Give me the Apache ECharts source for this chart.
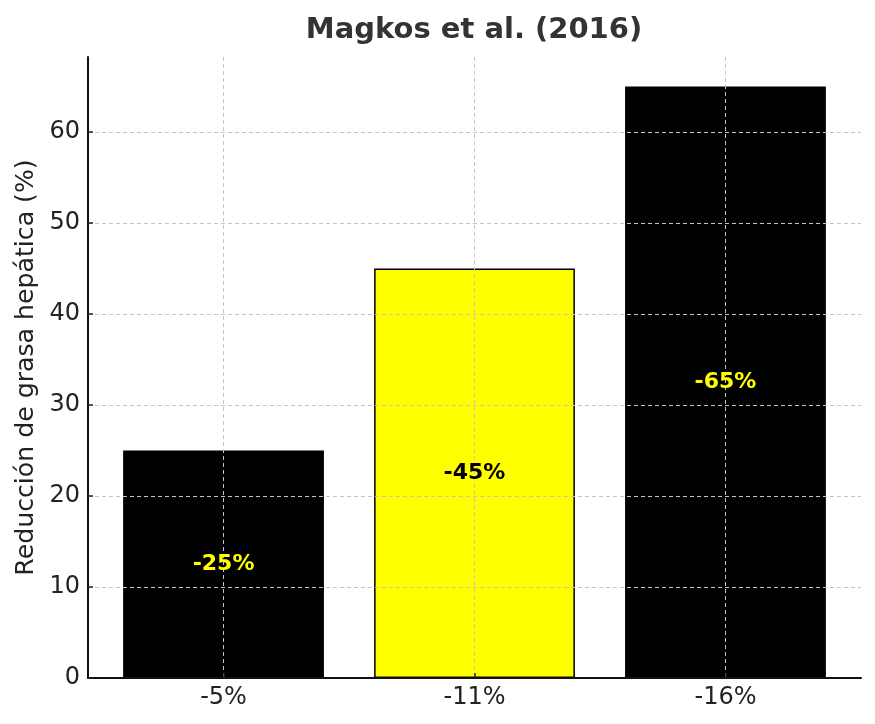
<!DOCTYPE html>
<html><head><meta charset="utf-8">
<script src="https://cdn.jsdelivr.net/npm/echarts@6/dist/echarts.min.js"></script>
<style>html,body{margin:0;padding:0;background:#fff}#c{width:875px;height:724px}</style>
</head><body><div id="c"></div>
<script>
const titleText = 'Magkos et al. (2016)';
const yAxisName = 'Reducción de grasa hepática (%)';
const categories = ['-5%', '-11%', '-16%'];
const values = [25, 45, 65];
const barColors = ['#000000', '#ffff00', '#000000'];
const labelColors = ['#ffff00', '#000000', '#ffff00'];

const font = 'DejaVu Sans';
const chart = echarts.init(document.getElementById('c'), null, {renderer: 'canvas'});
chart.setOption({
  animation: false,
  backgroundColor: '#fff',
  title: {
    text: titleText, left: 469, textAlign: 'center', top: 11,
    textStyle: {fontFamily: font, fontWeight: 'bold', fontSize: 29, color: '#333333'}
  },
  grid: {left: 88, right: 14, top: 57, bottom: 46, containLabel: false},
  xAxis: {
    type: 'value', min: -0.54, max: 2.54, interval: 1, z: 3,
    axisLine: {show: true, onZero: false, lineStyle: {color: '#111', width: 2}},
    axisTick: {show: true, inside: true, length: 5, customValues: [0, 1, 2], lineStyle: {color: '#222', width: 1.5}},
    axisLabel: {
      customValues: [0, 1, 2], margin: 8,
      fontFamily: font, fontSize: 24, color: '#222',
      formatter: v => { const i = Math.round(v); return Math.abs(v - i) < 1e-6 && categories[i] !== undefined ? categories[i] : ''; }
    },
    splitLine: {show: true, lineStyle: {color: '#c4c4c4', type: [4, 3], width: 1}}
  },
  yAxis: {
    type: 'value', min: 0, max: 68.25, interval: 10, z: 3,
    name: yAxisName, nameLocation: 'middle', nameRotate: 90, nameGap: 39,
    nameTextStyle: {fontFamily: font, fontSize: 25.2, color: '#222'},
    axisLine: {show: true, onZero: false, lineStyle: {color: '#111', width: 2}},
    axisTick: {show: true, inside: true, length: 5, lineStyle: {color: '#222', width: 1.5}},
    axisLabel: {margin: 8, fontFamily: font, fontSize: 24, color: '#222',
      showMaxLabel: false},
    splitLine: {show: true, showMaxLine: false, showMinLine: false, lineStyle: {color: '#c4c4c4', type: [4, 3], width: 1}}
  },
  series: [{
    type: 'bar', z: 2, barWidth: '80%',
    data: values.map((v, i) => ({
      value: [i, v],
      itemStyle: {color: barColors[i], borderColor: '#000', borderWidth: 1.5}
    }))
  }, {
    type: 'bar', z: 5, barWidth: '80%', barGap: '-100%', silent: true,
    data: values.map((v, i) => ({
      value: [i, v],
      itemStyle: {color: 'rgba(0,0,0,0)'},
      label: {color: labelColors[i]}
    })),
    label: {
      show: true, position: 'inside',
      fontFamily: font, fontWeight: 'bold', fontSize: 22,
      formatter: p => '-' + p.value[1] + '%'
    }
  }]
});
</script></body></html>
